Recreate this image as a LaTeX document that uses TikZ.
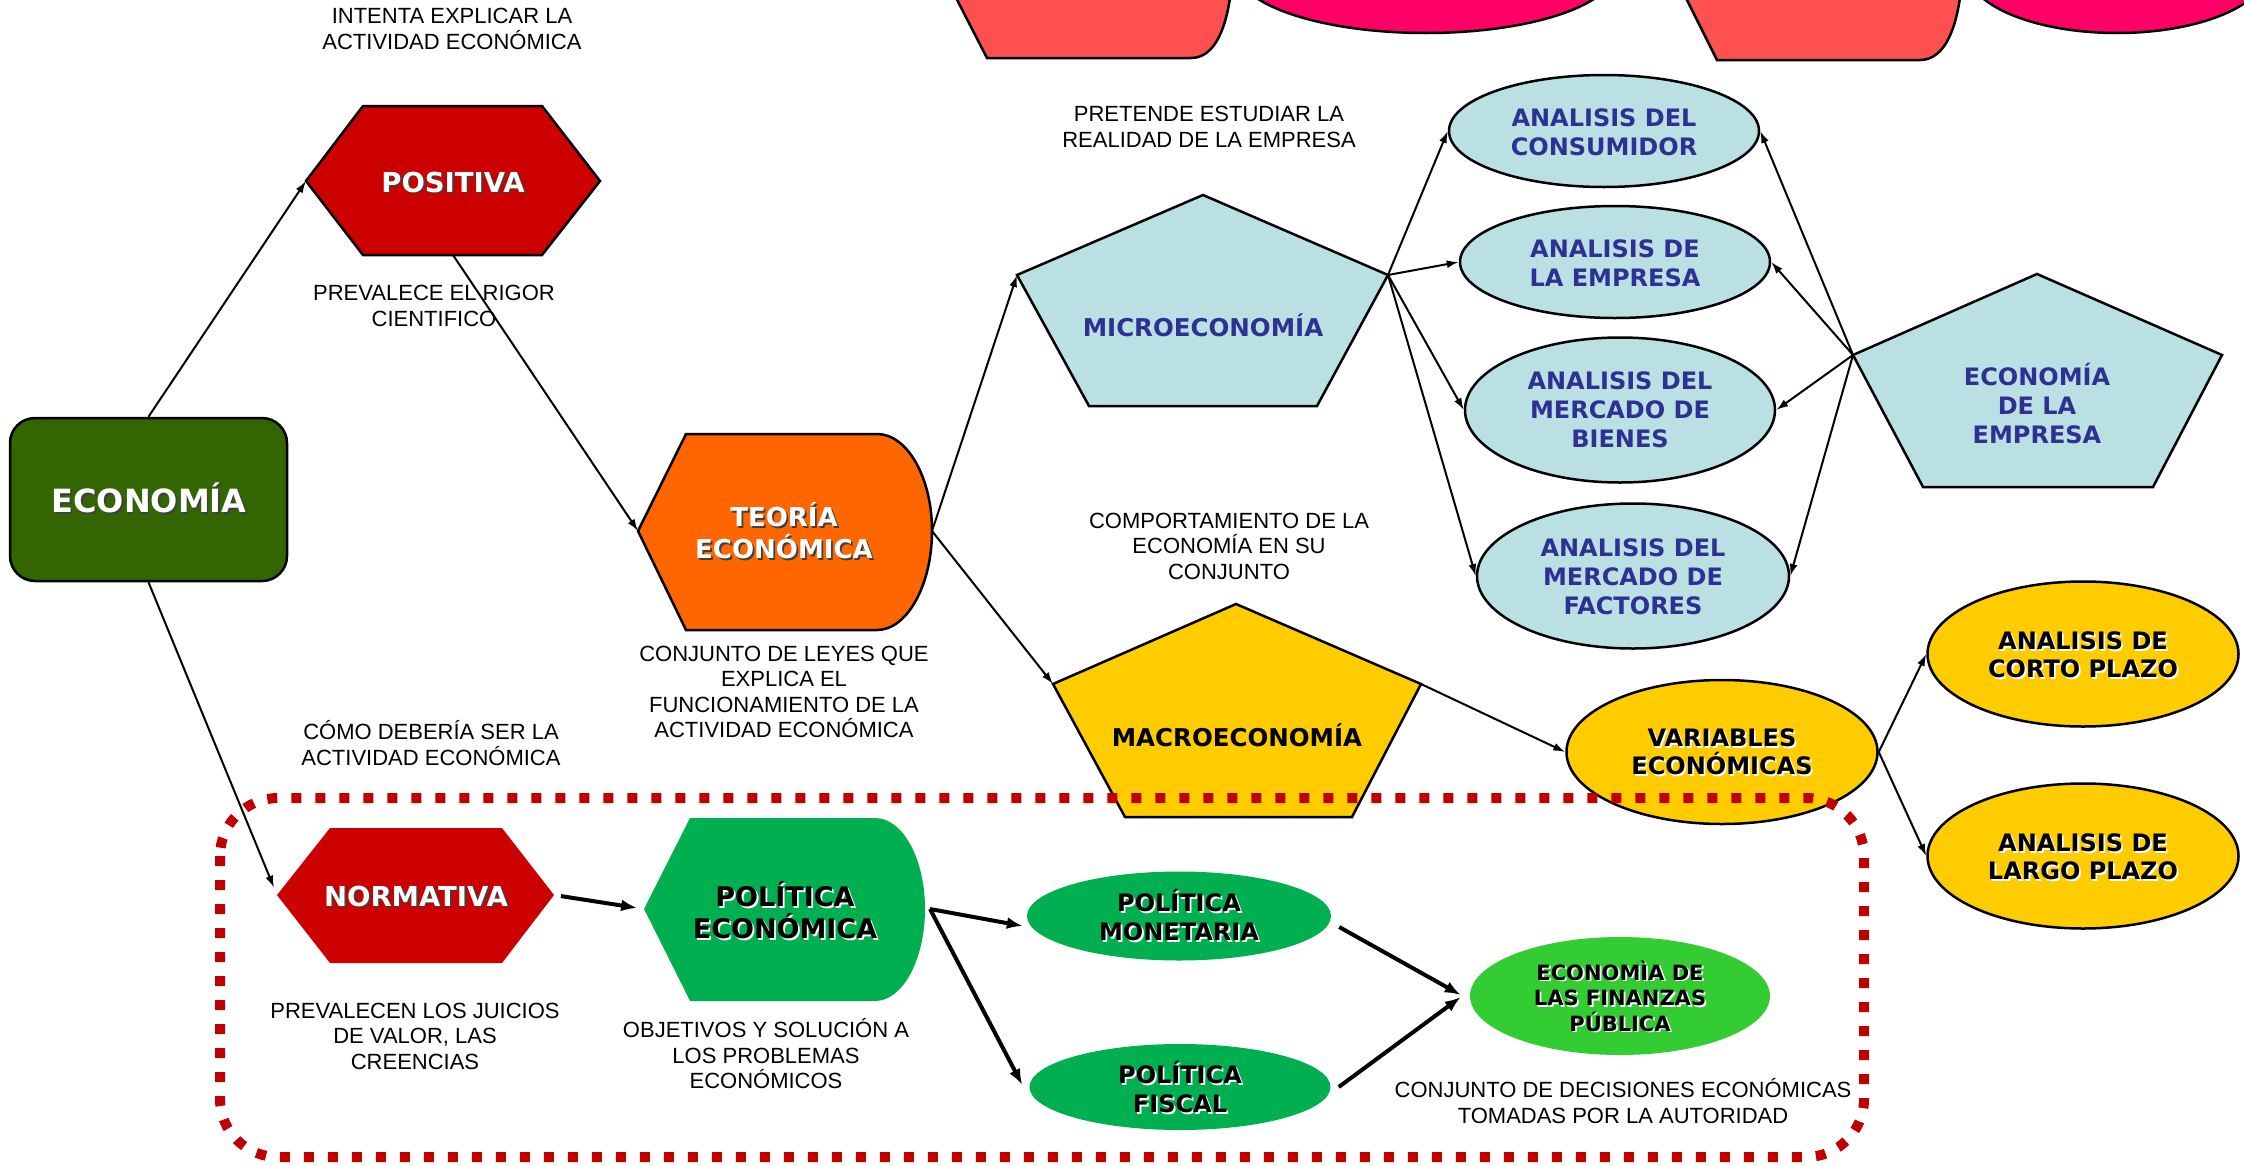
\documentclass[tikz,border=0pt]{standalone}
\usepackage{fontspec}
\setmainfont{Liberation Sans}
\newfontfamily\vfont{DejaVu Sans}
\usetikzlibrary{shapes.geometric,arrows.meta,calc}
\definecolor{econgreen}{HTML}{336600}
\definecolor{hexred}{HTML}{CC0000}
\definecolor{teoorange}{HTML}{FF6600}
\definecolor{lblue}{HTML}{BBE0E3}
\definecolor{navy}{HTML}{2E3192}
\definecolor{gold}{HTML}{FFCC00}
\definecolor{polgreen}{HTML}{00B050}
\definecolor{fingreen}{HTML}{33CC33}
\definecolor{salmon}{HTML}{FF5050}
\definecolor{pinkm}{HTML}{FF0066}
\definecolor{dashred}{HTML}{C00000}
% shadowed text: name, position, font, text colour, shadow colour, text
\newcommand{\shtext}[6]{%
  \node[ttl, align=center, font=#3, text=#5] at ($(#2)+(1.8,1.8)$) {#6};
  \node[ttl, align=center, font=#3, text=#4] (#1) at (#2) {#6};}
\tikzset{
  shp/.style={draw=black, line width=2.5pt, line join=miter},
  lbl/.style={font=\fontsize{22}{25.5}\selectfont, align=center, inner sep=0pt},
  ttl/.style={inner sep=0pt},
  ell/.style={ellipse, draw=black, line width=2.5pt, inner sep=0pt},
  elln/.style={ellipse, inner sep=0pt},
  arrthin/.style={line width=2pt, -{Latex[length=12pt,width=8pt]}},
  arrthick/.style={line width=4pt, -{Latex[length=16pt,width=12pt]}},
  dashbox/.style={draw=dashred, line width=10pt, dash pattern=on 10pt off 14pt, rounded corners=58pt}
}
\begin{document}
\begin{tikzpicture}[x=1pt,y=-1pt]
\useasboundingbox (0,0) rectangle (2244,1165);
\fill[white] (0,0) rectangle (2244,1165);
% cut-off shapes at the top
\begin{scope}
\clip (0,0) rectangle (2244,1165);
\filldraw[shp, fill=salmon] (952,-10) -- (987,58) -- (1191,58) .. controls (1216,58) and (1227,25) .. (1231,-10) -- cycle;
\filldraw[shp, fill=pinkm] (1426,-30) ellipse [x radius=189pt, y radius=63pt];
\filldraw[shp, fill=salmon] (1682,-10) -- (1717,60) -- (1920,60) .. controls (1946,60) and (1957,25) .. (1961,-10) -- cycle;
\filldraw[shp, fill=pinkm] (2117,-30) ellipse [x radius=150pt, y radius=63pt];
\end{scope}

% ECONOMIA
\node[draw=black, line width=2.5pt, rounded corners=25pt, fill=econgreen, minimum width=277pt, minimum height=163pt, inner sep=0pt] (econ) at (148.5,499.5) {};
\shtext{econ-t}{149,498}{\vfont\bfseries\fontsize{32}{37}\selectfont}{white}{black!75}{ECONOMÍA}

% POSITIVA hexagon
\filldraw[shp, fill=hexred] (306,181) -- (363,106) -- (542,106) -- (600,181) -- (542,255) -- (363,255) -- cycle;
\coordinate (pos-w) at (306,181);
\coordinate (pos-s) at (453,255);
\shtext{pos-t}{453,182}{\vfont\bfseries\fontsize{27.5}{32}\selectfont}{white}{black!75}{POSITIVA}

% TEORIA ECONOMICA
\filldraw[shp, fill=teoorange] (638,531) -- (686,434) -- (877,434) .. controls (907,434) and (932,477) .. (932,531) .. controls (932,585) and (907,630) .. (877,630) -- (686,630) -- cycle;
\coordinate (teo-w) at (638,531);
\coordinate (teo-e) at (932,531);
\shtext{teo-t}{784,531}{\vfont\bfseries\fontsize{26}{32}\selectfont}{white}{black!75}{TEORÍA\\ECONÓMICA}

% MICROECONOMIA pentagon
\filldraw[shp, fill=lblue] (1203,195) -- (1388,275) -- (1317,406) -- (1089,406) -- (1017,275) -- cycle;
\coordinate (mic-w) at (1017,275);
\coordinate (mic-e) at (1388,275);
\node[ttl, text=navy, font=\vfont\bfseries\fontsize{24.5}{29}\selectfont] (mic-t) at (1203,325) {MICROECONOMÍA};

% MACROECONOMIA pentagon
\filldraw[shp, fill=gold] (1236,604) -- (1421,684) -- (1352,817) -- (1125,817) -- (1053,684) -- cycle;
\coordinate (mac-w) at (1053,684);
\coordinate (mac-e) at (1421,684);
\node[ttl, text=black, font=\vfont\bfseries\fontsize{24.5}{29}\selectfont] (mac-t) at (1237,735) {MACROECONOMÍA};

% ECONOMIA DE LA EMPRESA pentagon
\filldraw[shp, fill=lblue] (2037,274) -- (2222,355) -- (2153,487) -- (1923,487) -- (1853,355) -- cycle;
\coordinate (emp-w) at (1853,355);
\node[ttl, align=center, text=navy, font=\vfont\bfseries\fontsize{24}{29}\selectfont] (emp-t) at (2037,404) {ECONOMÍA\\DE LA\\EMPRESA};

% light blue ellipses
\node[ell, fill=lblue, minimum width=310pt, minimum height=112pt] (cons) at (1604,131) {};
\node[ell, fill=lblue, minimum width=310pt, minimum height=112pt] (emprs) at (1615,262) {};
\node[ell, fill=lblue, minimum width=310pt, minimum height=145pt] (bien) at (1620,410) {};
\node[ell, fill=lblue, minimum width=312pt, minimum height=145pt] (fact) at (1633,576) {};
\begin{scope}[every node/.style={ttl, align=center, text=navy, font=\vfont\bfseries\fontsize{24}{29}\selectfont}]
\node (cons-t) at ($(cons)+(0,1)$) {ANALISIS DEL\\CONSUMIDOR};
\node (emprs-t) at ($(emprs)+(0,1)$) {ANALISIS DE\\LA EMPRESA};
\node (bien-t) at ($(bien)+(0,0)$) {ANALISIS DEL\\MERCADO DE\\BIENES};
\node (fact-t) at ($(fact)+(0,1)$) {ANALISIS DEL\\MERCADO DE\\FACTORES};
\end{scope}

% yellow ellipses
\node[ell, fill=gold, minimum width=311pt, minimum height=144pt] (var) at (1722,752) {};
\node[ell, fill=gold, minimum width=311pt, minimum height=145pt] (cort) at (2083,654) {};
\node[ell, fill=gold, minimum width=311pt, minimum height=145pt] (larg) at (2083,856) {};
\shtext{var-t}{1722,752}{\vfont\bfseries\fontsize{24}{28.5}\selectfont}{black}{white}{VARIABLES\\ECONÓMICAS}
\shtext{cort-t}{2083,655}{\vfont\bfseries\fontsize{24}{28.5}\selectfont}{black}{white}{ANALISIS DE\\CORTO PLAZO}
\shtext{larg-t}{2083,857}{\vfont\bfseries\fontsize{24}{28.5}\selectfont}{black}{white}{ANALISIS DE\\LARGO PLAZO}

% NORMATIVA hexagon
\fill[hexred] (277,895) -- (330,828) -- (502,828) -- (554,895) -- (502,963) -- (330,963) -- cycle;
\coordinate (nor-w) at (277,895);
\coordinate (nor-e) at (554,895);
\shtext{nor-t}{416,896}{\vfont\bfseries\fontsize{27.5}{32}\selectfont}{white}{black!75}{NORMATIVA}

% POLITICA ECONOMICA
\fill[polgreen] (644,909) -- (690,818) -- (875,818) .. controls (903,818) and (925,859) .. (925,909) .. controls (925,959) and (903,1001) .. (875,1001) -- (690,1001) -- cycle;
\coordinate (pol-w) at (644,909);
\coordinate (pol-e) at (925,909);
\shtext{pol-t}{785,910}{\vfont\bfseries\fontsize{27}{32}\selectfont}{black}{white}{POLÍTICA\\ECONÓMICA}

% green ellipses
\node[elln, fill=polgreen, minimum width=304pt, minimum height=89pt] (mon) at (1179,916) {};
\node[elln, fill=polgreen, minimum width=301pt, minimum height=86pt] (fis) at (1180,1087) {};
\node[elln, fill=fingreen, minimum width=300pt, minimum height=118pt] (fin) at (1620,996) {};
\shtext{mon-t}{1179,915}{\vfont\bfseries\fontsize{24}{28.5}\selectfont}{black}{white}{POLÍTICA\\MONETARIA}
\shtext{fis-t}{1180,1087}{\vfont\bfseries\fontsize{24}{28.5}\selectfont}{black}{white}{POLÍTICA\\FISCAL}
\shtext{fin-t}{1620,996}{\vfont\bfseries\fontsize{21}{25.5}\selectfont}{black}{white}{ECONOMÌA DE\\LAS FINANZAS\\PÚBLICA}

% labels
\node[lbl] (l-int) at (452,29) {INTENTA EXPLICAR LA\\ACTIVIDAD ECONÓMICA};
\node[lbl] (l-rig) at (434,306) {PREVALECE EL RIGOR\\CIENTIFICO};
\node[lbl] (l-ley) at (784,692) {CONJUNTO DE LEYES QUE\\EXPLICA EL\\FUNCIONAMIENTO DE LA\\ACTIVIDAD ECONÓMICA};
\node[lbl] (l-pre) at (1209,127) {PRETENDE ESTUDIAR LA\\REALIDAD DE LA EMPRESA};
\node[lbl] (l-com) at (1229,546) {COMPORTAMIENTO DE LA\\ECONOMÍA EN SU\\CONJUNTO};
\node[lbl] (l-dbr) at (431,743) {CÓMO DEBERÍA SER LA\\ACTIVIDAD ECONÓMICA};
\node[lbl] (l-jui) at (415,1036) {PREVALECEN LOS JUICIOS\\DE VALOR, LAS\\CREENCIAS};
\node[lbl] (l-obj) at (766,1054) {OBJETIVOS Y SOLUCIÓN A\\LOS PROBLEMAS\\ECONÓMICOS};
\node[lbl] (l-dec) at (1623,1101) {CONJUNTO DE DECISIONES ECONÓMICAS\\TOMADAS POR LA AUTORIDAD};

% dashed region
\draw[dashbox] (220,798) rectangle (1864,1157);

% thin connectors
\draw[arrthin] (econ.north) -- (pos-w);
\draw[arrthin] (pos-s) -- (teo-w);
\draw[arrthin, shorten >=8pt] (econ.south) -- (nor-w);
\draw[arrthin] (teo-e) -- (mic-w);
\draw[arrthin] (teo-e) -- (mac-w);
\draw[arrthin] (mic-e) -- (cons.west);
\draw[arrthin] (mic-e) -- (emprs.west);
\draw[arrthin] (mic-e) -- (bien.west);
\draw[arrthin] (mic-e) -- (fact.west);
\draw[arrthin] (emp-w) -- (cons.east);
\draw[arrthin] (emp-w) -- (emprs.east);
\draw[arrthin] (emp-w) -- (bien.east);
\draw[arrthin] (emp-w) -- (fact.east);
\draw[arrthin] (mac-e) -- (var.west);
\draw[arrthin] (var.east) -- (cort.west);
\draw[arrthin] (var.east) -- (larg.west);

% thick connectors
\draw[arrthick, shorten <=7pt, shorten >=7pt] (nor-e) -- (pol-w);
\draw[arrthick] ($(pol-e)+(5,0)$) -- ($(mon.west)+(-4,10)$);
\draw[arrthick] ($(pol-e)+(5,0)$) -- ($(fis.west)+(-7,-2)$);
\draw[arrthick] ($(mon.east)+(8,11)$) -- ($(fin.west)+(-9,-1)$);
\draw[arrthick] ($(fis.east)+(8,0)$) -- ($(fin.west)+(-9,1)$);
\end{tikzpicture}
\end{document}
